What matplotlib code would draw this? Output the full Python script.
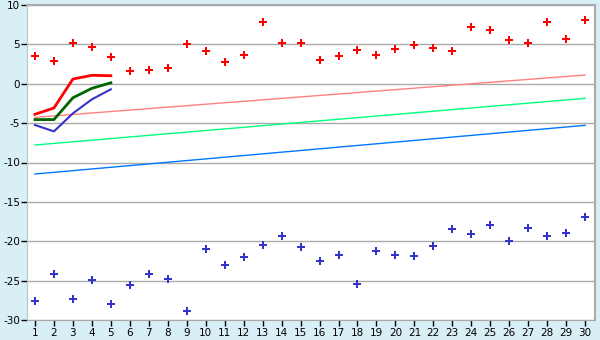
import matplotlib
matplotlib.use("Agg")
import matplotlib.pyplot as plt
import numpy as np

plt.rcParams["axes.unicode_minus"] = False

x = list(range(1, 31))
upper_pts = [3.48, 2.85, 5.22, 4.63, 3.35, 1.58, 1.70, 1.95, 5.0, 4.11,
             2.72, 3.61, 7.80, 5.13, 5.13, 2.97, 3.48, 4.24, 3.61, 4.41,
             4.87, 4.49, 4.11, 7.16, 6.78, 5.51, 5.13, 7.80, 5.64, 8.05]
lower_pts = [-27.63, -24.2, -27.37, -24.96, -28.0, -25.6, -24.2, -24.83, -28.9, -21.03,
             -23.06, -22.04, -20.52, -19.37, -20.77, -22.55, -21.79, -25.47, -21.28, -21.79,
             -21.92, -20.65, -18.49, -19.12, -17.98, -20.0, -18.36, -19.37, -19.0, -16.96]
x5 = [1, 2, 3, 4, 5]
red_line = [-3.88, -3.08, 0.6, 1.07, 1.02]
green_line = [-4.55, -4.55, -1.78, -0.58, 0.12]
blue_line = [-5.24, -6.05, -3.76, -1.98, -0.7]
trend_x = [1, 30]
trend_pink = [-4.27, 1.11]
trend_green = [-7.78, -1.85]
trend_blue = [-11.46, -5.28]

bg = "#D9EFF6"
fig = plt.figure(figsize=(6, 3.4), dpi=100, facecolor=bg)
ax = fig.add_axes([27/600, 1-320/340, (595-27)/600, (320-5)/340])
ax.set_facecolor("white")

ax.set_xlim(0.58, 30.52)
ax.set_ylim(-30, 10)
ax.set_yticks(range(-30, 11, 5))
ax.set_xticks(x)
ax.grid(axis="y", color="#AAAAAA", linewidth=1)
ax.set_axisbelow(True)

ax.plot(trend_x, trend_pink, color="#FF8080", lw=1)
ax.plot(trend_x, trend_green, color="#00FF80", lw=1)
ax.plot(trend_x, trend_blue, color="#0077FF", lw=1)

ax.plot(x5, red_line, color="#FF0000", lw=2)
ax.plot(x5, green_line, color="#006400", lw=2)
ax.plot(x5, blue_line, color="#3333CC", lw=1.5)

ax.plot(x, upper_pts, ls="none", marker="P", ms=6, color="#FF0000", mec="#FF0000", mew=0)
ax.plot(x, lower_pts, ls="none", marker="P", ms=5.5, color="#3333CC", mec="#3333CC", mew=0)

for s in ["top", "right"]:
    ax.spines[s].set_color("#AAAAAA")
    ax.spines[s].set_linewidth(1.5)
ax.spines["left"].set_color("#B0C8D0")
ax.spines["bottom"].set_color("#AAAAAA")
ax.tick_params(axis="both", colors="black", labelsize=7.5, length=4, width=1)
ax.tick_params(axis="y", pad=1)
ax.tick_params(axis="x", pad=2)

fig.savefig("out.png", dpi=100, facecolor=bg)
